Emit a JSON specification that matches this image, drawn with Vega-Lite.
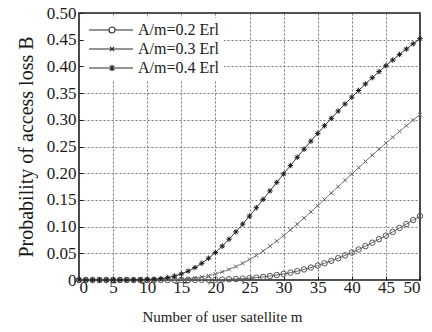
{
  "$schema": "https://vega.github.io/schema/vega-lite/v6.json",
  "width": 341,
  "height": 267,
  "autosize": {"type": "none"},
  "padding": {"left": 79, "top": 13, "right": 12, "bottom": 52},
  "background": "white",
  "config": {
    "font": "Liberation Serif",
    "view": {"stroke": "#1a1a1a", "strokeWidth": 1.6},
    "axis": {
      "labelFont": "Liberation Serif",
      "titleFont": "Liberation Serif",
      "labelColor": "#1a1a1a",
      "titleColor": "#1a1a1a",
      "titleFontWeight": "normal",
      "domain": false,
      "grid": true,
      "gridColor": "#555",
      "gridDash": [2, 2],
      "gridWidth": 0.8,
      "ticks": true,
      "tickSize": -4,
      "tickColor": "#1a1a1a",
      "tickWidth": 1
    }
  },
  "data": {
    "values": [
      {"m": 0, "s": "A/m=0.2 Erl", "B": 0}, {"m": 1, "s": "A/m=0.2 Erl", "B": 0}, {"m": 2, "s": "A/m=0.2 Erl", "B": 0}, {"m": 3, "s": "A/m=0.2 Erl", "B": 0}, {"m": 4, "s": "A/m=0.2 Erl", "B": 0}, {"m": 5, "s": "A/m=0.2 Erl", "B": 0}, {"m": 6, "s": "A/m=0.2 Erl", "B": 0}, {"m": 7, "s": "A/m=0.2 Erl", "B": 0}, {"m": 8, "s": "A/m=0.2 Erl", "B": 0}, {"m": 9, "s": "A/m=0.2 Erl", "B": 0}, {"m": 10, "s": "A/m=0.2 Erl", "B": 0},
      {"m": 11, "s": "A/m=0.2 Erl", "B": 0}, {"m": 12, "s": "A/m=0.2 Erl", "B": 0}, {"m": 13, "s": "A/m=0.2 Erl", "B": 0}, {"m": 14, "s": "A/m=0.2 Erl", "B": 0}, {"m": 15, "s": "A/m=0.2 Erl", "B": 0.0001}, {"m": 16, "s": "A/m=0.2 Erl", "B": 0.0001}, {"m": 17, "s": "A/m=0.2 Erl", "B": 0.0002}, {"m": 18, "s": "A/m=0.2 Erl", "B": 0.0003}, {"m": 19, "s": "A/m=0.2 Erl", "B": 0.0004}, {"m": 20, "s": "A/m=0.2 Erl", "B": 0.0006},
      {"m": 21, "s": "A/m=0.2 Erl", "B": 0.0009}, {"m": 22, "s": "A/m=0.2 Erl", "B": 0.0014}, {"m": 23, "s": "A/m=0.2 Erl", "B": 0.0019}, {"m": 24, "s": "A/m=0.2 Erl", "B": 0.0026}, {"m": 25, "s": "A/m=0.2 Erl", "B": 0.0034}, {"m": 26, "s": "A/m=0.2 Erl", "B": 0.0045}, {"m": 27, "s": "A/m=0.2 Erl", "B": 0.0058}, {"m": 28, "s": "A/m=0.2 Erl", "B": 0.0074}, {"m": 29, "s": "A/m=0.2 Erl", "B": 0.0093}, {"m": 30, "s": "A/m=0.2 Erl", "B": 0.0114},
      {"m": 31, "s": "A/m=0.2 Erl", "B": 0.0138}, {"m": 32, "s": "A/m=0.2 Erl", "B": 0.0166}, {"m": 33, "s": "A/m=0.2 Erl", "B": 0.0198}, {"m": 34, "s": "A/m=0.2 Erl", "B": 0.0233}, {"m": 35, "s": "A/m=0.2 Erl", "B": 0.0271}, {"m": 36, "s": "A/m=0.2 Erl", "B": 0.0313}, {"m": 37, "s": "A/m=0.2 Erl", "B": 0.0359}, {"m": 38, "s": "A/m=0.2 Erl", "B": 0.0408}, {"m": 39, "s": "A/m=0.2 Erl", "B": 0.046}, {"m": 40, "s": "A/m=0.2 Erl", "B": 0.0514},
      {"m": 41, "s": "A/m=0.2 Erl", "B": 0.0572}, {"m": 42, "s": "A/m=0.2 Erl", "B": 0.0634}, {"m": 43, "s": "A/m=0.2 Erl", "B": 0.0698}, {"m": 44, "s": "A/m=0.2 Erl", "B": 0.0764}, {"m": 45, "s": "A/m=0.2 Erl", "B": 0.0831}, {"m": 46, "s": "A/m=0.2 Erl", "B": 0.0901}, {"m": 47, "s": "A/m=0.2 Erl", "B": 0.0974}, {"m": 48, "s": "A/m=0.2 Erl", "B": 0.1047}, {"m": 49, "s": "A/m=0.2 Erl", "B": 0.1122}, {"m": 50, "s": "A/m=0.2 Erl", "B": 0.1197},

      {"m": 0, "s": "A/m=0.3 Erl", "B": 0}, {"m": 1, "s": "A/m=0.3 Erl", "B": 0}, {"m": 2, "s": "A/m=0.3 Erl", "B": 0}, {"m": 3, "s": "A/m=0.3 Erl", "B": 0}, {"m": 4, "s": "A/m=0.3 Erl", "B": 0}, {"m": 5, "s": "A/m=0.3 Erl", "B": 0}, {"m": 6, "s": "A/m=0.3 Erl", "B": 0}, {"m": 7, "s": "A/m=0.3 Erl", "B": 0}, {"m": 8, "s": "A/m=0.3 Erl", "B": 0}, {"m": 9, "s": "A/m=0.3 Erl", "B": 0}, {"m": 10, "s": "A/m=0.3 Erl", "B": 0.0001},
      {"m": 11, "s": "A/m=0.3 Erl", "B": 0.0001}, {"m": 12, "s": "A/m=0.3 Erl", "B": 0.0003}, {"m": 13, "s": "A/m=0.3 Erl", "B": 0.0005}, {"m": 14, "s": "A/m=0.3 Erl", "B": 0.0009}, {"m": 15, "s": "A/m=0.3 Erl", "B": 0.0016}, {"m": 16, "s": "A/m=0.3 Erl", "B": 0.0026}, {"m": 17, "s": "A/m=0.3 Erl", "B": 0.004}, {"m": 18, "s": "A/m=0.3 Erl", "B": 0.0058}, {"m": 19, "s": "A/m=0.3 Erl", "B": 0.0083}, {"m": 20, "s": "A/m=0.3 Erl", "B": 0.0114},
      {"m": 21, "s": "A/m=0.3 Erl", "B": 0.0152}, {"m": 22, "s": "A/m=0.3 Erl", "B": 0.0198}, {"m": 23, "s": "A/m=0.3 Erl", "B": 0.0252}, {"m": 24, "s": "A/m=0.3 Erl", "B": 0.0313}, {"m": 25, "s": "A/m=0.3 Erl", "B": 0.0383}, {"m": 26, "s": "A/m=0.3 Erl", "B": 0.046}, {"m": 27, "s": "A/m=0.3 Erl", "B": 0.0543}, {"m": 28, "s": "A/m=0.3 Erl", "B": 0.0634}, {"m": 29, "s": "A/m=0.3 Erl", "B": 0.073}, {"m": 30, "s": "A/m=0.3 Erl", "B": 0.0831},
      {"m": 31, "s": "A/m=0.3 Erl", "B": 0.0937}, {"m": 32, "s": "A/m=0.3 Erl", "B": 0.1047}, {"m": 33, "s": "A/m=0.3 Erl", "B": 0.116}, {"m": 34, "s": "A/m=0.3 Erl", "B": 0.1275}, {"m": 35, "s": "A/m=0.3 Erl", "B": 0.1392}, {"m": 36, "s": "A/m=0.3 Erl", "B": 0.151}, {"m": 37, "s": "A/m=0.3 Erl", "B": 0.1628}, {"m": 38, "s": "A/m=0.3 Erl", "B": 0.1748}, {"m": 39, "s": "A/m=0.3 Erl", "B": 0.1867}, {"m": 40, "s": "A/m=0.3 Erl", "B": 0.1986},
      {"m": 41, "s": "A/m=0.3 Erl", "B": 0.2104}, {"m": 42, "s": "A/m=0.3 Erl", "B": 0.2221}, {"m": 43, "s": "A/m=0.3 Erl", "B": 0.2336}, {"m": 44, "s": "A/m=0.3 Erl", "B": 0.245}, {"m": 45, "s": "A/m=0.3 Erl", "B": 0.2563}, {"m": 46, "s": "A/m=0.3 Erl", "B": 0.2673}, {"m": 47, "s": "A/m=0.3 Erl", "B": 0.2782}, {"m": 48, "s": "A/m=0.3 Erl", "B": 0.2889}, {"m": 49, "s": "A/m=0.3 Erl", "B": 0.2994}, {"m": 50, "s": "A/m=0.3 Erl", "B": 0.3096},

      {"m": 0, "s": "A/m=0.4 Erl", "B": 0}, {"m": 1, "s": "A/m=0.4 Erl", "B": 0}, {"m": 2, "s": "A/m=0.4 Erl", "B": 0}, {"m": 3, "s": "A/m=0.4 Erl", "B": 0}, {"m": 4, "s": "A/m=0.4 Erl", "B": 0}, {"m": 5, "s": "A/m=0.4 Erl", "B": 0}, {"m": 6, "s": "A/m=0.4 Erl", "B": 0}, {"m": 7, "s": "A/m=0.4 Erl", "B": 0}, {"m": 8, "s": "A/m=0.4 Erl", "B": 0.0001}, {"m": 9, "s": "A/m=0.4 Erl", "B": 0.0003}, {"m": 10, "s": "A/m=0.4 Erl", "B": 0.0006},
      {"m": 11, "s": "A/m=0.4 Erl", "B": 0.0014}, {"m": 12, "s": "A/m=0.4 Erl", "B": 0.0026}, {"m": 13, "s": "A/m=0.4 Erl", "B": 0.0045}, {"m": 14, "s": "A/m=0.4 Erl", "B": 0.0074}, {"m": 15, "s": "A/m=0.4 Erl", "B": 0.0114}, {"m": 16, "s": "A/m=0.4 Erl", "B": 0.0166}, {"m": 17, "s": "A/m=0.4 Erl", "B": 0.0233}, {"m": 18, "s": "A/m=0.4 Erl", "B": 0.0313}, {"m": 19, "s": "A/m=0.4 Erl", "B": 0.0408}, {"m": 20, "s": "A/m=0.4 Erl", "B": 0.0514},
      {"m": 21, "s": "A/m=0.4 Erl", "B": 0.0634}, {"m": 22, "s": "A/m=0.4 Erl", "B": 0.0764}, {"m": 23, "s": "A/m=0.4 Erl", "B": 0.0901}, {"m": 24, "s": "A/m=0.4 Erl", "B": 0.1047}, {"m": 25, "s": "A/m=0.4 Erl", "B": 0.1197}, {"m": 26, "s": "A/m=0.4 Erl", "B": 0.1353}, {"m": 27, "s": "A/m=0.4 Erl", "B": 0.151}, {"m": 28, "s": "A/m=0.4 Erl", "B": 0.1668}, {"m": 29, "s": "A/m=0.4 Erl", "B": 0.1828}, {"m": 30, "s": "A/m=0.4 Erl", "B": 0.1986},
      {"m": 31, "s": "A/m=0.4 Erl", "B": 0.2143}, {"m": 32, "s": "A/m=0.4 Erl", "B": 0.2298}, {"m": 33, "s": "A/m=0.4 Erl", "B": 0.245}, {"m": 34, "s": "A/m=0.4 Erl", "B": 0.26}, {"m": 35, "s": "A/m=0.4 Erl", "B": 0.2746}, {"m": 36, "s": "A/m=0.4 Erl", "B": 0.2889}, {"m": 37, "s": "A/m=0.4 Erl", "B": 0.3028}, {"m": 38, "s": "A/m=0.4 Erl", "B": 0.3164}, {"m": 39, "s": "A/m=0.4 Erl", "B": 0.3296}, {"m": 40, "s": "A/m=0.4 Erl", "B": 0.3424},
      {"m": 41, "s": "A/m=0.4 Erl", "B": 0.3549}, {"m": 42, "s": "A/m=0.4 Erl", "B": 0.3671}, {"m": 43, "s": "A/m=0.4 Erl", "B": 0.3788}, {"m": 44, "s": "A/m=0.4 Erl", "B": 0.3902}, {"m": 45, "s": "A/m=0.4 Erl", "B": 0.4012}, {"m": 46, "s": "A/m=0.4 Erl", "B": 0.412}, {"m": 47, "s": "A/m=0.4 Erl", "B": 0.4224}, {"m": 48, "s": "A/m=0.4 Erl", "B": 0.4325}, {"m": 49, "s": "A/m=0.4 Erl", "B": 0.4423}, {"m": 50, "s": "A/m=0.4 Erl", "B": 0.4518}
    ]
  },
  "encoding": {
    "x": {
      "field": "m", "type": "quantitative",
      "scale": {"domain": [0, 50], "nice": false},
      "axis": {
        "values": [0, 5, 10, 15, 20, 25, 30, 35, 40, 45, 50],
        "title": "Number of user satellite m",
        "titleFontSize": 15,
        "titleX": 143,
        "titleAlign": "center",
        "labelFontSize": 17,
        "labelPadding": 3,
        "titlePadding": 14,
        "labelFlush": true
      }
    },
    "y": {
      "field": "B", "type": "quantitative",
      "scale": {"domain": [0, 0.5], "nice": false},
      "axis": {
        "values": [0, 0.05, 0.1, 0.15, 0.2, 0.25, 0.3, 0.35, 0.4, 0.45, 0.5],
        "labelExpr": "datum.value == 0 ? '0' : format(datum.value, '.2f')",
        "title": "Probability of access loss B",
        "titleFontSize": 20,
        "labelFontSize": 17,
        "labelPadding": 7,
        "titlePadding": 10,
        "labelFlush": false
      }
    }
  },
  "layer": [
    {
      "mark": {"type": "line", "strokeWidth": 1},
      "encoding": {
        "detail": {"field": "s"},
        "color": {
          "field": "s", "type": "nominal", "legend": null,
          "scale": {"domain": ["A/m=0.2 Erl", "A/m=0.3 Erl", "A/m=0.4 Erl"], "range": ["#666666", "#808080", "#3a3a3a"]}
        }
      }
    },
    {
      "mark": {"type": "point", "filled": false, "size": 30, "opacity": 1},
      "encoding": {
        "shape": {
          "field": "s", "type": "nominal", "legend": null,
          "scale": {"domain": ["A/m=0.2 Erl", "A/m=0.3 Erl", "A/m=0.4 Erl"], "range": ["circle", "M-0.7,-0.7L0.7,0.7M-0.7,0.7L0.7,-0.7", "M-1,0L1,0M0,-1L0,1M-0.7,-0.7L0.7,0.7M-0.7,0.7L0.7,-0.7"]}
        },
        "stroke": {
          "field": "s", "type": "nominal", "legend": null,
          "scale": {"domain": ["A/m=0.2 Erl", "A/m=0.3 Erl", "A/m=0.4 Erl"], "range": ["#555555", "#666666", "#1a1a1a"]}
        },
        "strokeWidth": {
          "field": "s", "type": "nominal", "legend": null,
          "scale": {"domain": ["A/m=0.2 Erl", "A/m=0.3 Erl", "A/m=0.4 Erl"], "range": [1, 1, 1.5]}
        }
      }
    },
    {
      "mark": {"type": "point", "filled": false, "opacity": 0},
      "encoding": {
        "shape": {
          "field": "s", "type": "nominal",
          "scale": {"domain": ["A/m=0.2 Erl", "A/m=0.3 Erl", "A/m=0.4 Erl"], "range": [
            "M-1,0L1.86,0M2.72,0L5.29,0M1.86,0A0.43,0.43 0 1,1 2.72,0A0.43,0.43 0 1,1 1.86,0",
            "M-1,0L5.29,0M1.99,-0.3L2.59,0.3M1.99,0.3L2.59,-0.3",
            "M-1,0L5.29,0M2.29,-0.45L2.29,0.45M1.94,-0.35L2.64,0.35M1.94,0.35L2.64,-0.35"
          ]},
          "legend": {
            "title": null,
            "orient": "top-left",
            "offset": 5,
            "padding": 4,
            "fillColor": "white",
            "symbolSize": 196,
            "symbolStrokeColor": "#2a2a2a",
            "symbolStrokeWidth": 1.1,
            "symbolOpacity": 1,
            "symbolFillColor": "white",
            "labelFont": "Liberation Serif",
            "labelFontSize": 16,
            "labelColor": "#1a1a1a",
            "rowPadding": 3,
            "labelOffset": 34
          }
        }
      }
    }
  ],
  "resolve": {"scale": {"shape": "independent", "stroke": "independent", "strokeWidth": "independent"}}
}
